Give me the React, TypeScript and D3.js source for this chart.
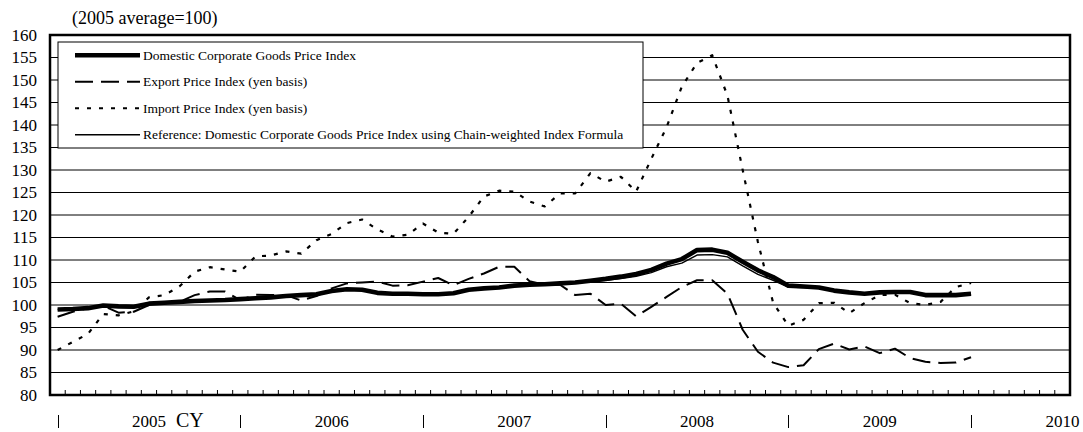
import * as d3 from "d3"

// category axis runs Jan 2005 .. Jul 2010, one band per month
const years = ["2005", "2006", "2007", "2008", "2009", "2010"]
const monthsOnAxis = 67

// monthly values, Jan 2005 .. Jan 2010 (2005 average = 100)
const domestic = [
  99.0, 99.1, 99.3, 99.9, 99.7, 99.6, 100.3, 100.5, 100.7, 100.9, 101.0, 101.1,
  101.3, 101.5, 101.7, 102.0, 102.2, 102.4, 103.1, 103.5, 103.4, 102.7, 102.5, 102.5,
  102.4, 102.4, 102.6, 103.4, 103.7, 103.9, 104.3, 104.5, 104.6, 104.8, 105.0, 105.4,
  105.8, 106.3, 106.9, 107.8, 109.2, 110.2, 112.2, 112.3, 111.6, 109.6, 107.7, 106.2,
  104.3, 104.1, 103.9, 103.2, 102.8, 102.5, 102.8, 102.9, 102.9, 102.2, 102.2, 102.2,
  102.5,
]
const chainWeighted = [
  99.0, 99.1, 99.3, 99.9, 99.7, 99.6, 100.3, 100.5, 100.7, 100.9, 101.0, 101.1,
  101.3, 101.5, 101.7, 102.0, 102.2, 102.4, 103.1, 103.5, 103.4, 102.7, 102.5, 102.5,
  102.4, 102.4, 102.6, 103.4, 103.7, 103.9, 104.3, 104.5, 104.5, 104.7, 104.9, 105.2,
  105.5, 105.9, 106.4, 107.2, 108.5, 109.3, 111.1, 111.2, 110.7, 108.7, 106.8, 105.5,
  104.0, 103.9, 103.8, 103.1, 102.7, 102.4, 102.7, 102.8, 102.8, 102.1, 102.1, 102.1,
  102.4,
]
const exportYen = [
  97.4, 98.5, 99.3, 99.8, 98.3, 98.5, 100.0, 100.4, 100.7, 102.2, 103.0, 103.0,
  101.1, 102.3, 102.2, 102.2, 101.0, 102.0, 103.7, 104.8, 105.0, 105.2, 104.3, 104.4,
  105.2, 106.0, 104.4, 105.8, 107.0, 108.5, 108.5, 105.3, 104.5, 104.5, 102.2, 102.5,
  100.0, 100.3, 97.5, 99.6, 101.8, 104.0, 105.5, 105.5, 102.5, 94.5, 89.6, 87.2,
  86.2, 86.6, 90.2, 91.4, 90.1, 90.8, 89.3, 90.3, 88.2, 87.4, 87.1, 87.2,
  88.4,
]
const importYen = [
  90.0, 91.8, 93.6, 98.0, 97.7, 98.6, 101.7, 102.2, 104.1, 107.4, 108.4, 107.9,
  107.4, 110.8, 111.0, 111.9, 111.4, 114.4, 115.8, 118.2, 119.0, 116.8, 115.2, 115.6,
  118.1, 116.1, 115.8, 119.6, 124.1, 125.4, 125.2, 123.0, 121.9, 124.8, 124.8, 129.3,
  127.4, 128.5, 125.2, 132.5, 139.5, 148.5, 153.8, 155.5, 146.5, 130.0, 114.0, 100.5,
  95.4, 96.7, 100.4, 100.5, 98.2, 100.4, 102.2, 102.3, 100.4, 100.0, 100.7, 104.0,
  104.9,
]

const yTicks = [80, 85, 90, 95, 100, 105, 110, 115, 120, 125, 130, 135, 140, 145, 150, 155, 160]

const legendNames = [
  "Domestic Corporate Goods Price Index",
  "Export Price Index (yen basis)",
  "Import Price Index (yen basis)",
  "Reference: Domestic Corporate Goods Price Index using Chain-weighted Index Formula",
]

const W = 1083
const H = 432
const plot = { left: 50, right: 1070, top: 35, bottom: 395 }
const serif = "'Liberation Serif', 'Times New Roman', serif"

const styles = [
  { width: 4.6, dash: undefined as string | undefined },
  { width: 2, dash: "18,8" },
  { width: 2.2, dash: "4,8" },
  { width: 1.4, dash: undefined as string | undefined },
]

export default function App() {
  const x = d3.scaleBand<number>()
    .domain(d3.range(monthsOnAxis))
    .range([plot.left, plot.right])
  const cx = (i: number) => (x(i) ?? 0) + x.bandwidth() / 2
  const y = d3.scaleLinear().domain([80, 160]).range([plot.bottom, plot.top])

  const line = d3.line<number>().x((_, i) => cx(i)).y(d => y(d))

  const series = [domestic, exportYen, importYen, chainWeighted]
  // draw order: import, export, reference, then the thick domestic line on top
  const drawOrder = [2, 1, 3, 0]

  const legendBox = { x: 58, y: 42, w: 585, h: 106 }
  const rowH = legendBox.h / legendNames.length

  return (
    <svg width={W} height={H} style={{ position: "absolute", left: 0, top: 0, background: "#fff" }}
      fontFamily={serif}>
      <text x={72} y={24} fontSize={18}>(2005 average=100)</text>

      {/* gridlines */}
      {yTicks.filter(t => t > 80 && t < 160).map(t => (
        <line key={t} x1={plot.left} x2={plot.right} y1={y(t)} y2={y(t)} stroke="#000" strokeWidth={1} />
      ))}

      {/* y labels */}
      {yTicks.map(t => (
        <text key={t} x={37} y={y(t)} dy="0.35em" textAnchor="end" fontSize={17}>{t}</text>
      ))}

      {/* legend */}
      <rect x={legendBox.x} y={legendBox.y} width={legendBox.w} height={legendBox.h}
        fill="#fff" stroke="#000" strokeWidth={1} />
      {legendNames.map((name, k) => {
        const ry = legendBox.y + rowH * (k + 0.5)
        return (
          <g key={name}>
            <line x1={75} x2={140} y1={ry} y2={ry} stroke="#000"
              strokeWidth={styles[k].width} strokeDasharray={styles[k].dash} />
            <text x={143} y={ry} dy="0.35em" fontSize={13.5}>{name}</text>
          </g>
        )
      })}

      {/* series */}
      {drawOrder.map(k => (
        <path key={k} d={line(series[k]) ?? ""} fill="none" stroke="#000"
          strokeWidth={styles[k].width} strokeDasharray={styles[k].dash}
          strokeLinejoin="round" />
      ))}

      {/* month ticks */}
      {d3.range(1, monthsOnAxis).map(i => (
        <line key={i} x1={x(i)} x2={x(i)} y1={plot.bottom} y2={plot.bottom - 5} stroke="#000" strokeWidth={1} />
      ))}

      {/* frame */}
      <rect x={plot.left} y={plot.top} width={plot.right - plot.left} height={plot.bottom - plot.top}
        fill="none" stroke="#000" strokeWidth={2.5} />

      {/* year labels: separators at January, year under July */}
      {years.map((yr, k) => (
        <g key={yr}>
          <line x1={Math.round(cx(k * 12)) + 0.5} x2={Math.round(cx(k * 12)) + 0.5}
            y1={415} y2={428} stroke="#000" strokeWidth={1} />
          <text x={cx(k * 12 + 6)} y={427} textAnchor="middle" fontSize={17}>{yr}</text>
        </g>
      ))}
      <text x={176} y={427} fontSize={20}>CY</text>
    </svg>
  )
}
